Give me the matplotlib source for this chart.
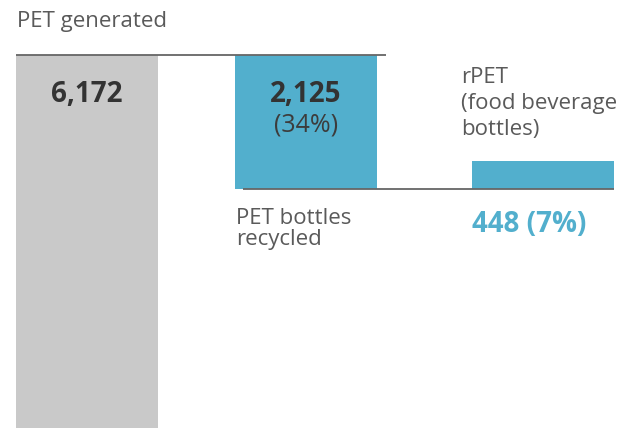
import matplotlib.pyplot as plt

# PET flow (thousand tonnes)
generated = 6172
recycled = 2125
rpet = 448
recycled_pct = 34
rpet_pct = 7

GREY = "#c9c9c9"
BLUE = "#52afcd"
TEXT = "#5a5a5a"
DARK = "#333333"
LINE = "#666666"

plt.rcParams["font.family"] = ["Open Sans", "DejaVu Sans"]

fig = plt.figure(figsize=(6.35, 4.28), dpi=100)
ax = fig.add_axes([0, 0, 1, 1])

# horizontal layout in pixel units
bar_w = 142
x_gen, x_rec, x_rpet = 87, 306, 543

scale = 134 / recycled  # px per unit
y_top = generated + 55 / scale
y_bot = generated - 373 / scale
ax.set_xlim(0, 635)
ax.set_ylim(y_bot, y_top)
ax.axis("off")

rec_bottom = generated - recycled
ax.bar(x_gen, generated, width=bar_w, color=GREY)
ax.bar(x_rec, recycled, bottom=rec_bottom, width=bar_w, color=BLUE)
ax.bar(x_rpet, rpet, bottom=rec_bottom, width=bar_w, color=BLUE)

ax.hlines(generated, x_gen - bar_w / 2, 386, color=LINE, lw=1.3)
ax.hlines(rec_bottom, 243, x_rpet + bar_w / 2, color=LINE, lw=1.3)


def px(dy):
    # pixel offset to data units on the y axis
    return dy / scale


ax.text(17, generated + px(34), "PET generated", fontsize=16, color=TEXT,
        va="center", ha="left")
ax.text(x_gen, generated - px(39), f"{generated:,}", fontsize=20,
        fontweight="bold", color=DARK, ha="center", va="center")
ax.text(x_rec, generated - px(40), f"{recycled:,}", fontsize=20,
        fontweight="bold", color=DARK, ha="center", va="center")
ax.text(x_rec, generated - px(70), f"({recycled_pct}%)", fontsize=18,
        color="#3c3c3c", ha="center", va="center")
ax.text(461, generated - px(12), "rPET\n(food beverage\nbottles)", fontsize=16,
        color=TEXT, ha="left", va="top", linespacing=1.3)
ax.text(236, rec_bottom - px(19), "PET bottles\nrecycled", fontsize=16,
        color=TEXT, ha="left", va="top", linespacing=0.97)
ax.text(472, rec_bottom - px(36), f"{rpet} ({rpet_pct}%)", fontsize=20,
        fontweight="bold", color=BLUE, ha="left", va="center")

fig.savefig("out.png", dpi=100)
